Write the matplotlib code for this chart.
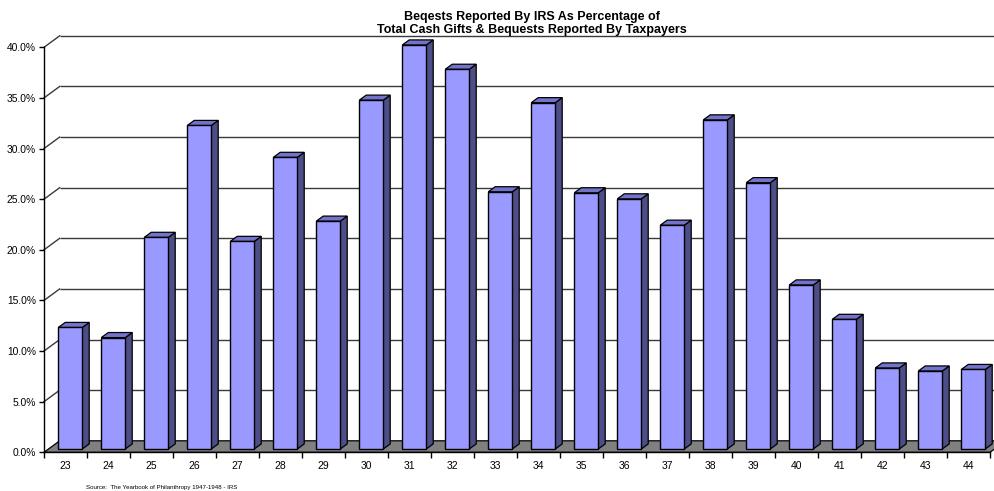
import matplotlib
matplotlib.use("Agg")
import matplotlib.pyplot as plt
from matplotlib.patches import Polygon

plt.rcParams['font.family'] = ['Liberation Sans', 'DejaVu Sans']

# Data
years = ["23", "24", "25", "26", "27", "28", "29", "30", "31", "32", "33",
         "34", "35", "36", "37", "38", "39", "40", "41", "42", "43", "44"]
bequest_pct = [12.0, 11.0, 20.9, 31.95, 20.5, 28.8, 22.5, 34.45, 39.9, 37.5, 25.4,
               34.2, 25.3, 24.7, 22.1, 32.5, 26.3, 16.2, 12.8, 8.0, 7.7, 7.85]
y_ticks = [0, 5, 10, 15, 20, 25, 30, 35, 40]

title_lines = ["Beqests Reported By IRS As Percentage of",
               "Total Cash Gifts & Bequests Reported By Taxpayers"]
source_note = "Source:  The Yearbook of Philanthropy 1947-1948 - IRS"

# Figure / front plot plane geometry (pixels)
W, H, DPI = 995, 491, 100
left_px, right_px = 44.0, 990.0
bottom_px, top_px = 452.3, 47.3          # y measured from top of figure
depth_dx, depth_dy = 15.7, 11.5           # 3-D depth offset (back wall)

fig = plt.figure(figsize=(W / DPI, H / DPI), dpi=DPI)
ax = fig.add_axes([left_px / W, 1 - bottom_px / H,
                   (right_px - left_px) / W, (bottom_px - top_px) / H])
n = len(years)
ymax = y_ticks[-1]
ax.set_xlim(0, n)
ax.set_ylim(0, ymax)

sx = (right_px - left_px) / n            # px per category
sy = (bottom_px - top_px) / ymax         # px per percent


def P(x, v, d):
    """Project (category x, value v, depth fraction d) into data coords."""
    return (x + d * depth_dx / sx, v + d * depth_dy / sy)


grid_color = '#3a3a3a'

# Back-wall gridlines and left-wall diagonals
for v in y_ticks[1:]:
    x0, y0 = P(0, v, 1)
    x1, _ = P(n, v, 1)
    ax.plot([x0, x1], [y0, y0], color=grid_color, lw=1.0, clip_on=False, zorder=1,
            solid_capstyle='butt')
    xa, ya = P(0, v, 0)
    ax.plot([xa, x0], [ya, y0], color=grid_color, lw=1.0, clip_on=False, zorder=1)

# Floor
floor = Polygon([P(0, 0, 0), P(n, 0, 0), P(n, 0, 1), P(0, 0, 1)], closed=True,
                facecolor='#808080', edgecolor='black', lw=0.9, clip_on=False, zorder=2)
ax.add_patch(floor)

# 3-D bars
bx0, bx1 = 0.227, 0.785
d0, d1 = 0.29, 0.73
front_c, top_c, side_c = '#9999FF', '#7373CC', '#4D4D88'
for i, v in enumerate(bequest_pct):
    xa, xb = i + bx0, i + bx1
    side = Polygon([P(xb, 0, d0), P(xb, 0, d1), P(xb, v, d1), P(xb, v, d0)],
                   closed=True, facecolor=side_c, edgecolor='black', lw=0.9,
                   clip_on=False, zorder=3)
    top = Polygon([P(xa, v, d0), P(xb, v, d0), P(xb, v, d1), P(xa, v, d1)],
                  closed=True, facecolor=top_c, edgecolor='black', lw=0.9,
                  clip_on=False, zorder=3)
    front = Polygon([P(xa, 0, d0), P(xb, 0, d0), P(xb, v, d0), P(xa, v, d0)],
                    closed=True, facecolor=front_c, edgecolor='black', lw=1.0,
                    clip_on=False, zorder=4)
    for p in (side, top, front):
        ax.add_patch(p)

# Axes styling
for s in ('top', 'right'):
    ax.spines[s].set_visible(False)
for s in ('left', 'bottom'):
    ax.spines[s].set_linewidth(1.0)
    ax.spines[s].set_zorder(5)
ax.patch.set_visible(False)

ax.set_yticks(y_ticks)
ax.set_yticklabels([f"{t:.1f}%" for t in y_ticks])
ax.tick_params(axis='y', direction='out', length=3.6, width=1.0, pad=2.2,
               labelsize=7.4, colors='black')

ax.set_xticks(range(n + 1))
ax.set_xticklabels([])
ax.set_xticks([i + 0.5 for i in range(n)], minor=True)
ax.set_xticklabels(years, minor=True)
ax.tick_params(axis='x', which='major', direction='out', length=4.3, width=1.0)
ax.tick_params(axis='x', which='minor', length=0, pad=6.5, labelsize=7.5)

# Title and source
cx = 532 / W
fig.text(cx, 1 - 20 / H, title_lines[0], ha='center', va='baseline',
         fontsize=9, fontweight='bold')
fig.text(cx, 1 - 33.3 / H, title_lines[1], ha='center', va='baseline',
         fontsize=9, fontweight='bold')
fig.text(162 / W, 1 - 487.3 / H, source_note, ha='center', va='center',
         fontsize=4.4)

fig.savefig("out.png", dpi=DPI)
